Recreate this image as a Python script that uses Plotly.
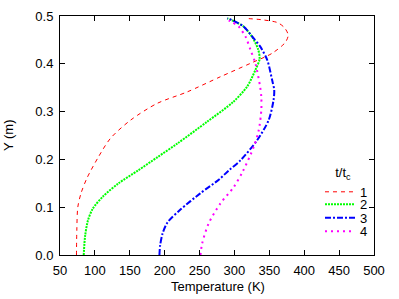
import plotly.graph_objects as go

# ---- data (Temperature in K, Y in m) ----
names = ["1", "2", "3", "4"]

t_1 = [73.6, 74.1, 75.5, 80.1, 88.7, 105, 122.3, 151, 189, 232, 280, 323, 354, 373, 377, 372, 362, 340, 316]
y_1 = [0.0, 0.052, 0.1, 0.129, 0.161, 0.205, 0.244, 0.282, 0.317, 0.341, 0.373, 0.401, 0.422, 0.445, 0.46, 0.475, 0.486, 0.492, 0.495]

t_2 = [84, 86, 90, 97, 112, 134, 162, 190, 218, 261, 298, 318, 330, 336, 334, 325, 313, 301, 290]
y_2 = [0.0, 0.04, 0.072, 0.097, 0.123, 0.15, 0.177, 0.205, 0.233, 0.279, 0.32, 0.352, 0.387, 0.41, 0.43, 0.457, 0.478, 0.488, 0.495]

t_3 = [192.5, 193.5, 197, 204, 222.6, 251, 278, 292, 308.6, 332.5, 349, 356, 357, 354, 347, 337, 327.7, 313, 299, 289.5]
y_3 = [0.0, 0.02, 0.045, 0.068, 0.095, 0.129, 0.158, 0.177, 0.198, 0.24, 0.282, 0.324, 0.345, 0.366, 0.408, 0.436, 0.453, 0.478, 0.49, 0.495]

t_4 = [251.3, 253.7, 263, 280, 299, 312, 327.6, 334.8, 338.5, 338.5, 337, 330, 323, 315.8, 306, 294, 287]
y_4 = [0.0, 0.024, 0.066, 0.108, 0.142, 0.175, 0.226, 0.261, 0.303, 0.33, 0.35, 0.401, 0.429, 0.457, 0.478, 0.489, 0.495]

x_ticks = [50, 100, 150, 200, 250, 300, 350, 400, 450, 500]
y_ticks = [0.0, 0.1, 0.2, 0.3, 0.4, 0.5]

x_title = "Temperature (K)"
y_title = "Y (m)"
legend_title = "t/t<sub>c</sub>"

series_t = [t_1, t_2, t_3, t_4]
series_y = [y_1, y_2, y_3, y_4]
colors = ["#ff0000", "#00ff00", "#0000ff", "#ff00ff"]
dashes = ["4px,4px", "2px,1px", "6px,2px,2px,2px", "2px,4px"]
widths = [1, 2, 2, 2]
legend_ids = ["legend", "legend2", "legend3", "legend4"]

FONT = "Liberation Sans, Arial, Helvetica, sans-serif"
TXT = dict(family=FONT, size=13, color="black")

fig = go.Figure()
for i in range(4):
    fig.add_trace(go.Scatter(
        x=series_t[i], y=series_y[i], mode="lines", name=names[i],
        line=dict(color=colors[i], width=widths[i], dash=dashes[i], shape="spline", smoothing=0.8),
        legend=legend_ids[i], showlegend=True,
    ))

axis_common = dict(
    ticks="inside", ticklen=5, tickwidth=1, tickcolor="black",
    showline=True, linecolor="black", linewidth=1, mirror="ticks",
    showgrid=False, zeroline=False, automargin=False,
    ticklabelstandoff=3,
    tickfont=TXT,
)

legend_common = dict(
    bgcolor="rgba(0,0,0,0)", borderwidth=0, font=TXT,
    xanchor="left", yanchor="middle", x=0.828,
)

fig.update_layout(
    template="none",
    showlegend=True,
    width=399, height=299,
    margin=dict(l=60, r=25, t=16, b=44, pad=0),
    paper_bgcolor="white", plot_bgcolor="white",
    font=TXT,
    xaxis=dict(range=[50, 500], tickvals=x_ticks, **axis_common),
    yaxis=dict(range=[0, 0.5], tickvals=y_ticks, tickformat=".1f", **axis_common),
    legend=dict(**{**legend_common, "yanchor": "bottom", "y": 0.201},
                title=dict(text=legend_title + "&nbsp;&nbsp;", side="top center", font=TXT)),
    legend2=dict(**legend_common, y=0.212),
    legend3=dict(**legend_common, y=0.156),
    legend4=dict(**legend_common, y=0.099),
    annotations=[
        dict(text=x_title, xref="paper", yref="paper", x=0.504, y=-0.131,
             xanchor="center", yanchor="middle", showarrow=False, font=TXT),
        dict(text=y_title, xref="paper", yref="paper", x=-0.164, y=0.5,
             xanchor="center", yanchor="middle", textangle=-90, showarrow=False, font=TXT),
    ],
)

fig.write_html(
    "out.html",
    config={"displayModeBar": False},
    post_script="document.body.style.margin='0px';document.body.style.padding='0px';",
)
